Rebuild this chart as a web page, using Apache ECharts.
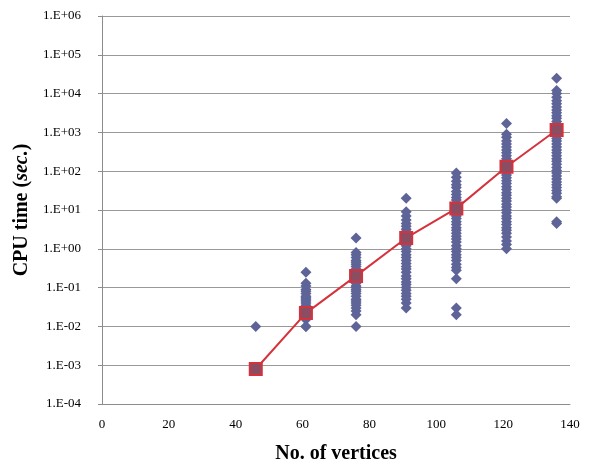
<!DOCTYPE html>
<html>
<head>
    <meta charset="utf-8">
    <title>CPU time vs vertices</title>
    <script src="https://cdn.jsdelivr.net/npm/echarts@6/dist/echarts.min.js"></script>
    <style>
        html, body { margin: 0; padding: 0; background: #fff; }
    </style>
</head>
<body>
<div id="main" style="width: 594px;height:464px;"></div>
<script type="text/javascript">
    // vertex counts of each group of instances
    var vertices = [46, 61, 76, 91, 106, 121, 136];

    // CPU time of each instance (sec.), one list per vertex count
    var times46 = [0.01, 0.0008];
    var times61 = [0.25, 0.13, 0.11, 0.09, 0.08, 0.07, 0.06, 0.055, 0.05, 0.045, 0.04, 0.035, 0.03, 0.028,
        0.025, 0.022, 0.02, 0.018, 0.015, 0.01, 0.01];
    var times76 = [1.9, 0.8, 0.7, 0.6, 0.5, 0.45, 0.4, 0.35, 0.3, 0.27, 0.24, 0.21, 0.19, 0.17, 0.15, 0.13,
        0.11, 0.1, 0.09, 0.08, 0.07, 0.06, 0.05, 0.045, 0.04, 0.035, 0.03, 0.025, 0.02, 0.01];
    var times91 = [20, 9, 7, 5.5, 4.5, 3.8, 3.2, 2.8, 2.4, 2.1, 1.9, 1.6, 1.4, 1.2, 1.0, 0.85, 0.7, 0.6, 0.5,
        0.42, 0.35, 0.3, 0.25, 0.2, 0.17, 0.14, 0.12, 0.1, 0.085, 0.07, 0.06, 0.05, 0.04, 0.03];
    var times106 = [90, 70, 55, 45, 38, 30, 25, 21, 18, 15, 13, 11, 9.5, 8, 7, 6, 5, 4.2, 3.5, 3, 2.5, 2.1,
        1.8, 1.5, 1.2, 1.0, 0.85, 0.7, 0.6, 0.5, 0.4, 0.33, 0.28, 0.17, 0.03, 0.02];
    var times121 = [1700, 900, 750, 600, 500, 420, 350, 300, 250, 210, 180, 150, 130, 110, 95, 80, 68, 57,
        48, 40, 34, 28, 24, 20, 17, 14, 12, 10, 8.5, 7, 6, 5, 4.2, 3.5, 3, 2.5, 2, 1.6, 1.3, 1.0];
    var times136 = [25000, 12000, 10000, 8000, 6500, 5500, 4500, 3800, 3200, 2700, 2300, 1900, 1600, 1350,
        1150, 1000, 850, 700, 600, 500, 420, 350, 300, 250, 210, 180, 150, 125, 105, 90, 75, 63, 53, 45,
        38, 32, 27, 22, 20, 5, 4.5];

    // average time for each vertex count (red line)
    var avgTimes = [0.0008, 0.022, 0.2, 1.9, 11, 130, 1150];

    var groups = [times46, times61, times76, times91, times106, times121, times136];

    var scatterData = [];
    for (var i = 0; i < vertices.length; i++) {
        for (var j = 0; j < groups[i].length; j++) {
            scatterData.push([vertices[i], groups[i][j]]);
        }
    }
    var lineData = [];
    for (var k = 0; k < vertices.length; k++) {
        lineData.push([vertices[k], avgTimes[k]]);
    }

    // 1.E+06 style labels
    function sciLabel(v) {
        var e = Math.round(Math.log(v) / Math.LN10);
        var s = e < 0 ? '-' : '+';
        var a = Math.abs(e);
        return '1.E' + s + (a < 10 ? '0' + a : a);
    }

    var myChart = echarts.init(document.getElementById('main'));
    var serif = '"Liberation Serif", "DejaVu Serif", serif';
    var option = {
        animation: false,
        grid: {
            left: 102,
            right: 24,
            top: 16,
            bottom: 60,
            containLabel: false,
            outerBoundsMode: 'none'
        },
        xAxis: {
            type: 'value',
            min: 0,
            max: 140,
            interval: 20,
            name: 'No. of vertices',
            nameLocation: 'middle',
            nameGap: 40,
            nameTextStyle: {
                fontFamily: serif,
                fontWeight: 'bold',
                fontSize: 20,
                color: '#000'
            },
            axisLine: { show: true, lineStyle: { color: '#8c8c8c', width: 1 } },
            axisTick: { show: false },
            axisLabel: {
                fontFamily: serif,
                fontSize: 13,
                color: '#000',
                margin: 14
            },
            splitLine: { show: false }
        },
        yAxis: {
            type: 'log',
            logBase: 10,
            min: 0.0001,
            max: 1000000,
            name: '{b|CPU time (}{i|sec.}{b|)}',
            nameLocation: 'middle',
            nameGap: 68,
            nameTextStyle: {
                rich: {
                    b: { fontFamily: serif, fontWeight: 'bold', fontSize: 20, color: '#000' },
                    i: { fontFamily: serif, fontWeight: 'bold', fontStyle: 'italic', fontSize: 20, color: '#000' }
                }
            },
            axisLine: { show: true, lineStyle: { color: '#8c8c8c', width: 1 } },
            axisTick: { show: true, length: 4, inside: false, lineStyle: { color: '#8c8c8c' } },
            axisLabel: {
                fontFamily: serif,
                fontSize: 13,
                color: '#000',
                margin: 21,
                formatter: sciLabel
            },
            splitLine: { show: true, lineStyle: { color: '#999999', width: 1 } }
        },
        series: [
            {
                name: 'instances',
                type: 'scatter',
                symbol: 'diamond',
                symbolSize: 11,
                itemStyle: { color: '#5e6498', opacity: 1 },
                data: scatterData,
                z: 2
            },
            {
                name: 'average',
                type: 'line',
                symbol: 'rect',
                symbolSize: 12,
                showAllSymbol: true,
                lineStyle: { color: '#d5323c', width: 2 },
                itemStyle: { color: '#8b4d62', borderColor: '#d5323c', borderWidth: 2 },
                data: lineData,
                z: 3
            }
        ]
    };
    myChart.setOption(option);
</script>
</body>
</html>
